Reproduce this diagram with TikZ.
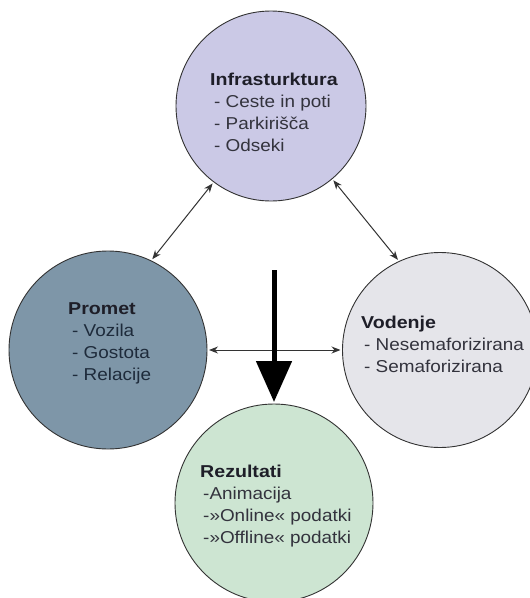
\documentclass[tikz,border=0pt]{standalone}
\usepackage{fontspec}
\setmainfont{Liberation Sans}[FakeStretch=1.1]
\newfontfamily\headfont{Liberation Sans}[FakeStretch=1.14]
\usetikzlibrary{arrows.meta}
\definecolor{infraC}{HTML}{CBC9E6}
\definecolor{prometC}{HTML}{7E96A8}
\definecolor{vodC}{HTML}{E5E5EA}
\definecolor{rezC}{HTML}{CDE5D2}
\definecolor{txtC}{HTML}{33333D}
\definecolor{hdC}{HTML}{1E1E28}
\definecolor{ptxtC}{HTML}{1E2B3B}
\definecolor{lineC}{HTML}{333333}
\tikzset{
  circ/.style={circle, draw=lineC, line width=0.9pt, inner sep=0pt, outer sep=2pt},
  txt/.style={anchor=north west, inner sep=0pt, align=left, text=txtC,
    font=\fontsize{17.2}{22}\selectfont},
  dbl/.style={{Stealth[length=9pt,width=7pt]}-{Stealth[length=9pt,width=7pt]}, draw=lineC, line width=1pt},
  bigarrow/.style={-{Triangle[length=41pt,width=35pt]}, draw=black, line width=5pt}
}
\newcommand{\hdr}[1]{{\headfont\bfseries\color{hdC}#1}}
\begin{document}
\begin{tikzpicture}[x=1pt,y=-1pt]
\useasboundingbox[fill=white] (0,0) rectangle (530,598);
% circles
\node[circ, fill=infraC, minimum size=190pt] (infra) at (271,106) {};
\node[circ, fill=prometC, minimum size=198pt] (promet) at (108,350) {};
\node[circ, fill=vodC, minimum size=195pt] (vod) at (440,350) {};
\node[circ, fill=rezC, minimum size=198pt] (rez) at (274,503) {};
% texts
\node[txt] (infratxt) at (210,73) {\hdr{Infrasturktura}\\\hspace{4pt}- Ceste in poti\\\hspace{4pt}- Parkirišča\\\hspace{4pt}- Odseki};
\node[txt, text=ptxtC] (prometxt) at (68,302) {\hdr{Promet}\\\hspace{4pt}- Vozila\\\hspace{4pt}- Gostota\\\hspace{4pt}- Relacije};
\node[txt] (vodtxt) at (361,316) {\hdr{Vodenje}\\\hspace{3pt}- Nesemaforizirana\\\hspace{3pt}- Semaforizirana};
\node[txt] (reztxt) at (200,465) {\hdr{Rezultati}\\\hspace{3pt}-Animacija\\\hspace{3pt}-»Online« podatki\\\hspace{3pt}-»Offline« podatki};
% connectors
\draw[dbl] (infra.233) -- (promet.64);
\draw[dbl] (infra.310) -- (vod.115);
\draw[dbl] (promet.east) -- (vod.west);
\coordinate (bigstart) at (274,270);
\draw[bigarrow] (bigstart) -- (rez.north);
\end{tikzpicture}
\end{document}
